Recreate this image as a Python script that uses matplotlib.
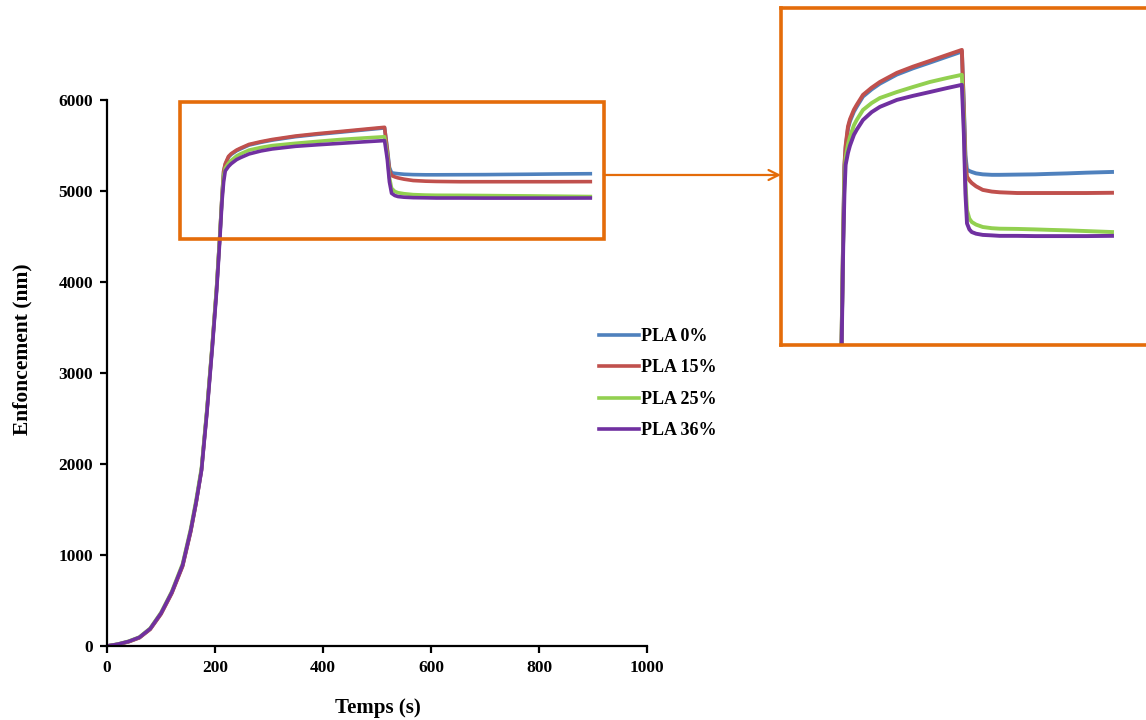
import matplotlib
matplotlib.use('Agg')
import matplotlib.pyplot as plt
from matplotlib.patches import Rectangle

plt.rcParams['font.family'] = ['Liberation Serif', 'DejaVu Serif']
plt.rcParams['font.weight'] = 'bold'

# temps (s)
temps = [0, 20, 40, 60, 80, 100, 120, 140, 155, 165, 175, 185, 195, 203, 209,
         213, 216, 219, 225, 230, 240, 247, 263, 285, 306, 349, 390, 433, 475,
         514, 519, 523, 527, 533, 539, 550, 567, 590, 610, 654, 700, 737, 781,
         830, 895]

# enfoncement (nm)
pla_0 = [0, 19, 48, 93, 187, 355, 585, 882, 1262, 1575, 1940, 2585, 3300, 3930, 4510,
         4940, 5210, 5290, 5372, 5402, 5442, 5462, 5505, 5535, 5559, 5597, 5623, 5647, 5671,
         5693, 5470, 5260, 5200, 5194, 5190, 5184, 5180, 5178, 5178, 5179, 5180, 5182, 5184,
         5187, 5190]
pla_15 = [0, 17, 46, 90, 183, 350, 578, 875, 1255, 1570, 1935, 2580, 3310, 3940, 4520,
          4950, 5220, 5300, 5380, 5410, 5450, 5470, 5512, 5542, 5566, 5604, 5630, 5654, 5678,
          5700, 5450, 5230, 5170, 5155, 5144, 5130, 5115, 5108, 5105, 5102, 5102, 5102, 5102,
          5102, 5103]
pla_25 = [0, 21, 52, 98, 195, 368, 600, 905, 1290, 1605, 1960, 2600, 3320, 3950, 4520,
          4930, 5170, 5250, 5305, 5336, 5385, 5407, 5449, 5478, 5499, 5524, 5545, 5566, 5582,
          5596, 5400, 5150, 5030, 4995, 4981, 4970, 4960, 4955, 4953, 4952, 4950, 4948, 4946,
          4943, 4939]
pla_36 = [0, 20, 50, 95, 190, 360, 590, 890, 1270, 1580, 1930, 2560, 3280, 3900, 4470,
          4890, 5100, 5220, 5270, 5300, 5345, 5366, 5407, 5440, 5462, 5491, 5508, 5524, 5540,
          5554, 5350, 5100, 4975, 4950, 4939, 4932, 4927, 4925, 4923, 4923, 4922, 4922, 4922,
          4922, 4923]

series = [('PLA 0%', pla_0, '#4F81BD'),
          ('PLA 15%', pla_15, '#C0504D'),
          ('PLA 25%', pla_25, '#92D050'),
          ('PLA 36%', pla_36, '#7030A0')]
orange = '#E46C0A'

fig = plt.figure(figsize=(11.46, 7.2), dpi=100)
ax = fig.add_axes([107 / 1146, 74 / 720, 540 / 1146, 546 / 720])

for nom, y, c in series:
    ax.plot(temps, y, color=c, lw=2.6, label=nom, solid_joinstyle='round')

ax.set_xlim(0, 1000)
ax.set_ylim(0, 6000)
ax.set_xticks(range(0, 1001, 200))
ax.set_yticks(range(0, 6001, 1000))
for s in ['top', 'right']:
    ax.spines[s].set_visible(False)
for s in ['left', 'bottom']:
    ax.spines[s].set_linewidth(1.6)
ax.tick_params(direction='out', length=5, width=1.6, labelsize=12.5, pad=5)
for lab in ax.get_xticklabels() + ax.get_yticklabels():
    lab.set_fontweight('bold')
ax.set_xlabel('Temps (s)', fontsize=15, fontweight='bold', va='center')
ax.xaxis.set_label_coords(0.502, -0.1136)
ax.set_ylabel('Enfoncement (nm)', fontsize=15.5, fontweight='bold', va='center')
ax.yaxis.set_label_coords(-0.156, 0.544)

# cadre de zoom
ax.add_patch(Rectangle((135, 4473), 785, 1505, fill=False, edgecolor=orange,
                       lw=2.6, clip_on=False, zorder=5))

leg = ax.legend(loc='upper left', bbox_to_anchor=(599 / 1146, 1 - 328 / 720),
                bbox_transform=fig.transFigure, frameon=False, borderpad=0,
                borderaxespad=0, handlelength=2.2, handletextpad=0.1,
                labelspacing=0.8, prop={'size': 13, 'weight': 'bold'})

# zoom
axz = fig.add_axes([781 / 1146, 375 / 720, 372 / 1146, 337 / 720])
for nom, y, c in series:
    axz.plot(temps, y, color=c, lw=2.8, solid_joinstyle='round')
axz.set_xlim(55, 999)
axz.set_ylim(4467, 5875)
axz.set_xticks([])
axz.set_yticks([])
for s in axz.spines.values():
    s.set_edgecolor(orange)
    s.set_linewidth(2.6)

ax.annotate('', xy=(781 / 1146, 1 - 175 / 720), xycoords='figure fraction',
            xytext=(920, 5176), textcoords='data',
            arrowprops=dict(arrowstyle='->', color=orange, lw=1.6,
                            shrinkA=0, shrinkB=0, mutation_scale=18))

fig.savefig('out.png', dpi=100)
